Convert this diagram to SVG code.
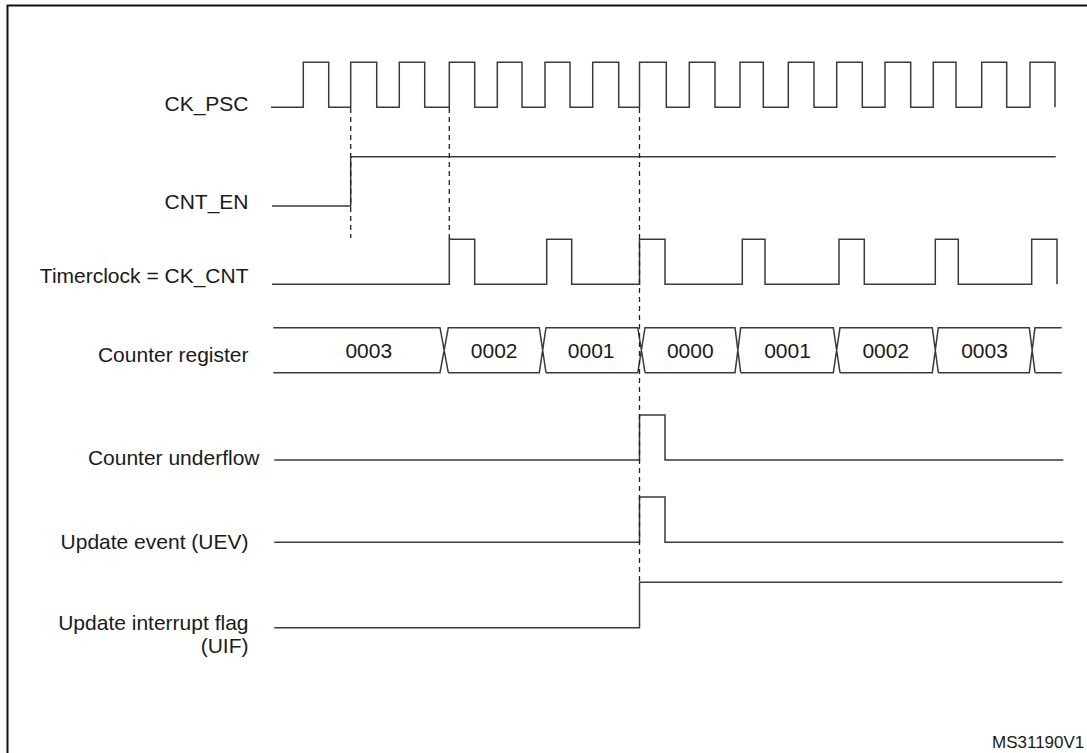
<svg xmlns="http://www.w3.org/2000/svg" width="1087" height="753" viewBox="0 0 1087 753">
<style>
.bg{fill:#ffffff}
.frame{fill:none;stroke:#111;stroke-width:2}
.wave{fill:none;stroke:#3a3a3a;stroke-width:1.5;stroke-linejoin:miter}
.dash{fill:none;stroke:#222;stroke-width:1.3;stroke-dasharray:5 4}
.lbl{font-family:"Liberation Sans",Arial,sans-serif;font-size:21px;fill:#1a1a1a;text-anchor:end}
.val{font-family:"Liberation Sans",Arial,sans-serif;font-size:21px;fill:#1a1a1a;text-anchor:middle}
.id{font-family:"Liberation Sans",Arial,sans-serif;font-size:17px;fill:#1a1a1a}
</style>
<rect class="bg" x="0" y="0" width="1087" height="753"/>
<rect class="frame" x="7.5" y="5.5" width="1100" height="800"/>

<g id="ck_psc">
<text class="lbl" x="248.5" y="111">CK_PSC</text>
<path class="wave" d="M271,107.3 H303.3 V62.3 H328.7 V107.3 H350.7 V62.3 H376.7 V107.3 H399.3 V62.3 H424.7 V107.3 H449.3 V62.3 H474.7 V107.3 H497.3 V62.3 H522 V107.3 H545 V62.3 H570 V107.3 H592.7 V62.3 H618.7 V107.3 H639.5 V62.3 H666.3 V107.3 H689.3 V62.3 H715 V107.3 H740 V62.3 H763.3 V107.3 H788.3 V62.3 H814 V107.3 H836.7 V62.3 H862.3 V107.3 H885 V62.3 H910.7 V107.3 H933.3 V62.3 H956 V107.3 H981.7 V62.3 H1006.7 V107.3 H1030 V62.3 H1055 V107.3"/>
</g>

<g id="cnt_en">
<text class="lbl" x="248.5" y="209.3">CNT_EN</text>
<path class="wave" d="M272,206 H350.7 V156.7 H1055.7"/>
</g>

<g id="ck_cnt">
<text class="lbl" x="248.5" y="282.7">Timerclock = CK_CNT</text>
<path class="wave" d="M272,284.3 H449.3 V239.3 H474.7 V284.3 H546.7 V239.3 H571.7 V284.3 H639.5 V239.3 H665 V284.3 H742.3 V239.3 H765 V284.3 H839 V239.3 H864.3 V284.3 H935.3 V239.3 H958.3 V284.3 H1031.7 V239.3 H1057 V284.3"/>
</g>

<g id="counter_register">
<text class="lbl" x="248.5" y="361.7">Counter register</text>
<path class="wave" d="M273.3,327.7 H440 L448.3,372.7 M273.3,372.7 H440 L448.3,327.7 H539.3 L546,372.7 M448.3,372.7 H539.3 L546,327.7 H637.8 L645,372.7 M546,372.7 H637.8 L645,327.7 H735 L740.7,372.7 M645,372.7 H735 L740.7,327.7 H833.3 L840,372.7 M740.7,372.7 H833.3 L840,327.7 H932.3 L938.3,372.7 M840,372.7 H932.3 L938.3,327.7 H1029.3 L1035,372.7 M938.3,372.7 H1029.3 L1035,327.7 H1061.7 M1035,372.7 H1061.7"/>
<text class="val" x="368.8" y="357.5">0003</text>
<text class="val" x="494.2" y="357.5">0002</text>
<text class="val" x="591.2" y="357.5">0001</text>
<text class="val" x="690.3" y="357.5">0000</text>
<text class="val" x="787.5" y="357.5">0001</text>
<text class="val" x="885.8" y="357.5">0002</text>
<text class="val" x="984.5" y="357.5">0003</text>
</g>

<g id="counter_underflow">
<text class="lbl" x="259.5" y="465">Counter underflow</text>
<path class="wave" d="M274.3,460 H639.5 V415 H665 V460 H1063.3"/>
</g>

<g id="uev">
<text class="lbl" x="248.5" y="549.3">Update event (UEV)</text>
<path class="wave" d="M274.3,542.3 H639.5 V497 H665 V542.3 H1063.3"/>
</g>

<g id="uif">
<text class="lbl" x="248.5" y="630">Update interrupt flag</text>
<text class="lbl" x="248.5" y="653.3">(UIF)</text>
<path class="wave" d="M274.3,627.7 H639.5 V582.3 H1062.3"/>
</g>

<g id="connectors">
<line class="dash" x1="350.7" y1="108" x2="350.7" y2="238"/>
<line class="dash" x1="449.3" y1="108" x2="449.3" y2="239.3"/>
<line class="dash" x1="639.5" y1="108" x2="639.5" y2="582"/>
</g>

<text class="id" x="992" y="747.5">MS31190V1</text>
</svg>
